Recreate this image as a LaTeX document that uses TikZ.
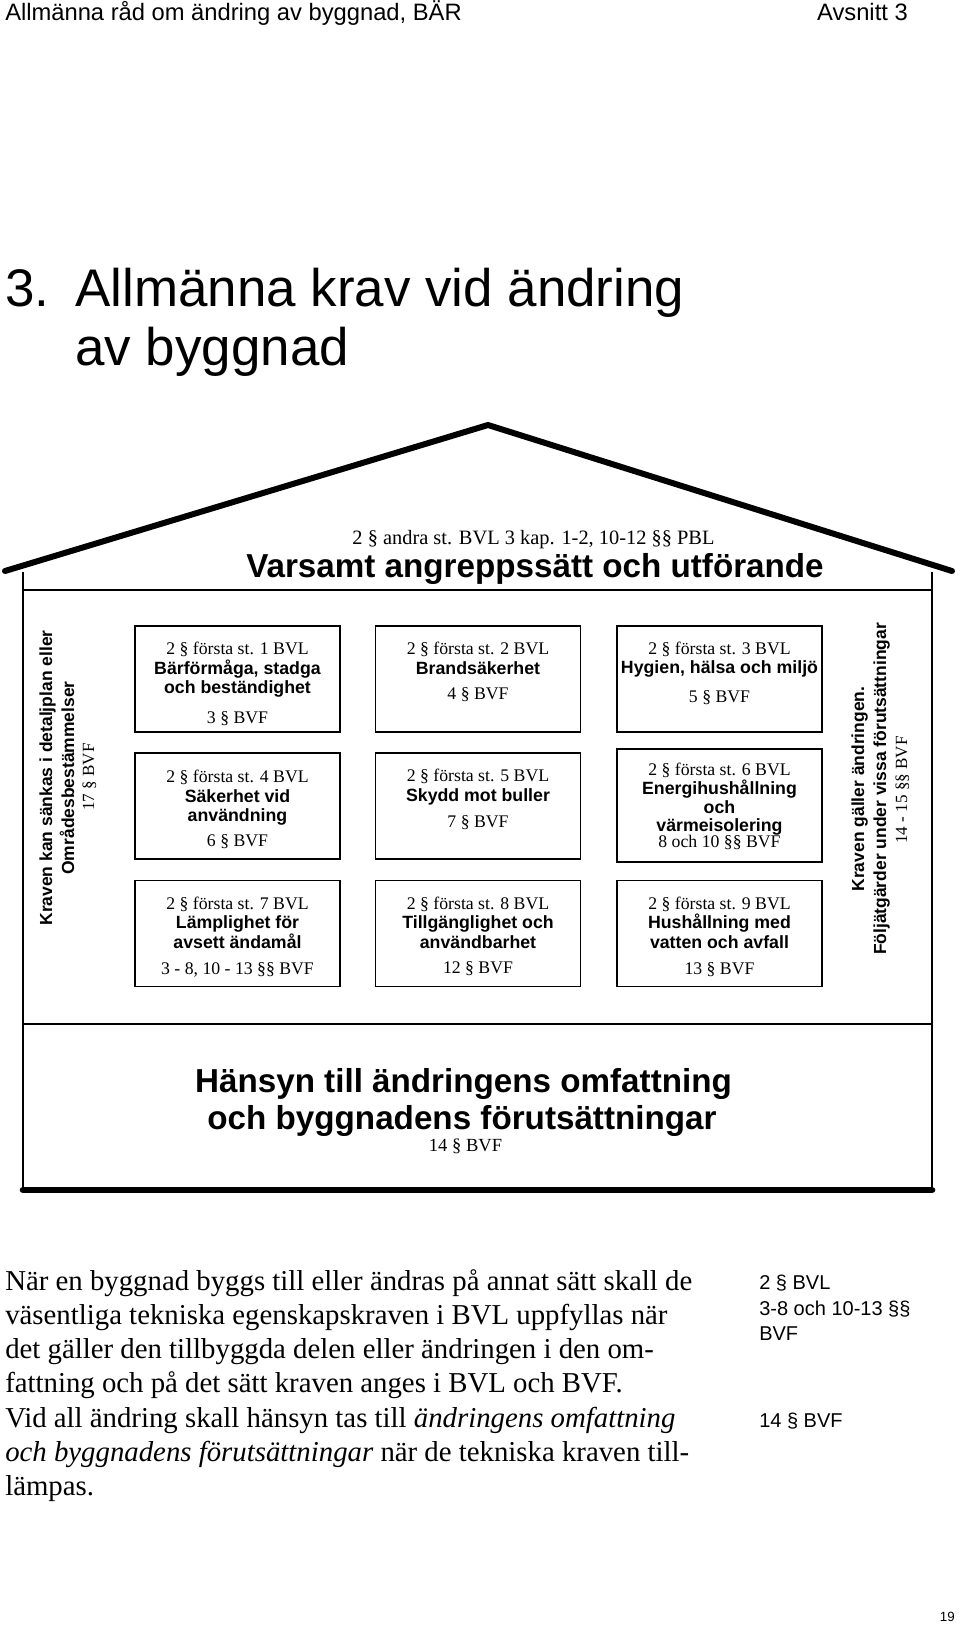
\documentclass[tikz,border=0pt]{standalone}
\usepackage{fontspec}
\setmainfont{Liberation Serif}
\setsansfont{Liberation Sans}
\begin{document}
\begin{tikzpicture}[x=0.75pt,y=-0.75pt,
  roofline/.style={line width=4.5pt,line cap=round,line join=miter},
  wall/.style={line width=1.6pt},
  baseline/.style={line width=5pt,line cap=round},
  reqbox/.style={draw,line width=1.4pt,inner sep=0pt,minimum width=153.75pt,minimum height=79.5pt},
  txt/.style={inner sep=0pt,anchor=base},
  refT/.style={txt,font=\fontsize{13.3}{15}\selectfont},
  headS/.style={txt,font=\sffamily\bfseries\fontsize{13.3}{15}\selectfont},
  sideS/.style={txt,rotate=90,font=\sffamily\bfseries\fontsize{13.1}{15}\selectfont},
  sideT/.style={txt,rotate=90,font=\fontsize{12.8}{15}\selectfont},
  bigS/.style={txt,font=\sffamily\bfseries\fontsize{24.9}{28}\selectfont},
  para/.style={txt,anchor=base west,font=\fontsize{21.6}{25}\selectfont},
  marg/.style={txt,anchor=base west,font=\sffamily\fontsize{15}{17}\selectfont}
]
\useasboundingbox (0,0) rectangle (960,1625);

% header
\node[txt,anchor=base west,font=\sffamily\fontsize{17.8}{20}\selectfont] (hdrL) at (5,20) {Allmänna råd om ändring av byggnad, BÄR};
\node[txt,anchor=base east,font=\sffamily\fontsize{17.8}{20}\selectfont] (hdrR) at (908,20) {Avsnitt 3};

% title
\node[txt,anchor=base west,font=\sffamily\fontsize{39.7}{44}\selectfont] (tnum) at (5,306) {3.};
\node[txt,anchor=base west,font=\sffamily\fontsize{39.7}{44}\selectfont] (t1) at (75,306) {Allmänna krav vid ändring};
\node[txt,anchor=base west,font=\sffamily\fontsize{39.7}{44}\selectfont] (t2) at (75,365) {av byggnad};

% house
\coordinate (roofL) at (5,571);
\coordinate (apex) at (488,425);
\coordinate (roofR) at (952,571);
\draw[roofline] (roofL) -- (apex) -- (roofR);
\coordinate (wLt) at (23,572);
\coordinate (wLb) at (23,1190);
\coordinate (wRt) at (932,572);
\coordinate (wRb) at (932,1190);
\draw[wall] (wLt) -- (wLb);
\draw[wall] (wRt) -- (wRb);
\coordinate (h1L) at (23,590);
\coordinate (h1R) at (932,590);
\draw[wall] (h1L) -- (h1R);
\coordinate (h2L) at (23,1024);
\coordinate (h2R) at (932,1024);
\draw[wall] (h2L) -- (h2R);
\draw[baseline] (wLb) -- (wRb);

% roof text
\node[txt,font=\fontsize{15.3}{17}\selectfont] (rref) at (533.5,544) {2 § andra st. BVL 3 kap. 1-2, 10-12 §§ PBL};
\node[bigS] (rtitle) at (535,577) {Varsamt angreppssätt och utförande};

% boxes
\node[reqbox] (b11) at (237.5,679) {};
\node[reqbox] (b12) at (237.5,806) {};
\node[reqbox] (b13) at (237.5,933.5) {};
\node[reqbox] (b21) at (478,679) {};
\node[reqbox] (b22) at (478,806) {};
\node[reqbox] (b23) at (478,933.5) {};
\node[reqbox] (b31) at (719.5,679) {};
\node[reqbox,minimum height=84.75pt] (b32) at (719.5,805.5) {};
\node[reqbox] (b33) at (719.5,933.5) {};

% box texts column 1
\node[refT] (t11a) at (237.5,654) {2 § första st. 1 BVL};
\node[headS] (t11b) at (237.5,674) {Bärförmåga, stadga};
\node[headS] (t11c) at (237.5,693) {och beständighet};
\node[refT] (t11d) at (237.5,723) {3 § BVF};

\node[refT] (t12a) at (237.5,782) {2 § första st. 4 BVL};
\node[headS] (t12b) at (237.5,802) {Säkerhet vid};
\node[headS] (t12c) at (237.5,821) {användning};
\node[refT] (t12d) at (237.5,846) {6 § BVF};

\node[refT] (t13a) at (237.5,909) {2 § första st. 7 BVL};
\node[headS] (t13b) at (237.5,928) {Lämplighet för};
\node[headS] (t13c) at (237.5,948) {avsett ändamål};
\node[refT] (t13d) at (237.5,974) {3 - 8, 10 - 13 §§ BVF};

% column 2
\node[refT] (t21a) at (478,654) {2 § första st. 2 BVL};
\node[headS] (t21b) at (478,674) {Brandsäkerhet};
\node[refT] (t21c) at (478,699) {4 § BVF};

\node[refT] (t22a) at (478,781) {2 § första st. 5 BVL};
\node[headS] (t22b) at (478,801) {Skydd mot buller};
\node[refT] (t22c) at (478,827) {7 § BVF};

\node[refT] (t23a) at (478,909) {2 § första st. 8 BVL};
\node[headS] (t23b) at (478,928) {Tillgänglighet och};
\node[headS] (t23c) at (478,948) {användbarhet};
\node[refT] (t23d) at (478,973) {12 § BVF};

% column 3
\node[refT] (t31a) at (719.5,654) {2 § första st. 3 BVL};
\node[headS] (t31b) at (719.5,673) {Hygien, hälsa och miljö};
\node[refT] (t31c) at (719.5,702) {5 § BVF};

\node[refT] (t32a) at (719.5,775) {2 § första st. 6 BVL};
\node[headS] (t32b) at (719.5,794) {Energihushållning};
\node[headS] (t32c) at (719.5,813) {och};
\node[headS] (t32d) at (719.5,831) {värmeisolering};
\node[refT] (t32e) at (719.5,847) {8 och 10 §§ BVF};

\node[refT] (t33a) at (719.5,909) {2 § första st. 9 BVL};
\node[headS] (t33b) at (719.5,928) {Hushållning med};
\node[headS] (t33c) at (719.5,948) {vatten och avfall};
\node[refT] (t33d) at (719.5,974) {13 § BVF};

% side texts
\node[sideS] (sl1) at (52,778) {Kraven kan sänkas i detaljplan eller};
\node[sideS] (sl2) at (74,778) {Områdesbestämmelser};
\node[sideT] (sl3) at (94,777) {17 § BVF};
\node[sideS] (sr1) at (864,789) {Kraven gäller ändringen.};
\node[sideS] (sr2) at (886,789) {Följätgärder under vissa förutsättningar};
\node[sideT] (sr3) at (907,790) {14 - 15 §§ BVF};

% lower house text
\node[bigS] (lw1) at (463.5,1092) {Hänsyn till ändringens omfattning};
\node[bigS] (lw2) at (462,1129) {och byggnadens förutsättningar};
\node[txt,font=\fontsize{13.9}{16}\selectfont] (lw3) at (465.5,1151) {14 § BVF};

% paragraph
\node[para] (p1) at (5,1290) {När en byggnad byggs till eller ändras på annat sätt skall de};
\node[para] (p2) at (5,1324.3) {väsentliga tekniska egenskapskraven i BVL uppfyllas när};
\node[para] (p3) at (5,1358.6) {det gäller den tillbyggda delen eller ändringen i den om-};
\node[para] (p4) at (5,1392.9) {fattning och på det sätt kraven anges i BVL och BVF.};
\node[para] (p5) at (5,1427.2) {Vid all ändring skall hänsyn tas till \textit{ändringens omfattning}};
\node[para] (p6) at (5,1461.5) {\textit{och byggnadens förutsättningar} när de tekniska kraven till-};
\node[para] (p7) at (5,1495.8) {lämpas.};

% margin references
\node[marg] (m1) at (759,1289) {2 § BVL};
\node[marg] (m2) at (759,1315) {3-8 och 10-13 §§};
\node[marg] (m3) at (759,1340) {BVF};
\node[marg] (m4) at (759,1427) {14 § BVF};

% page number
\node[txt,anchor=base east,font=\sffamily\fontsize{10}{12}\selectfont] (pg) at (955,1621) {19};
\end{tikzpicture}
\end{document}
